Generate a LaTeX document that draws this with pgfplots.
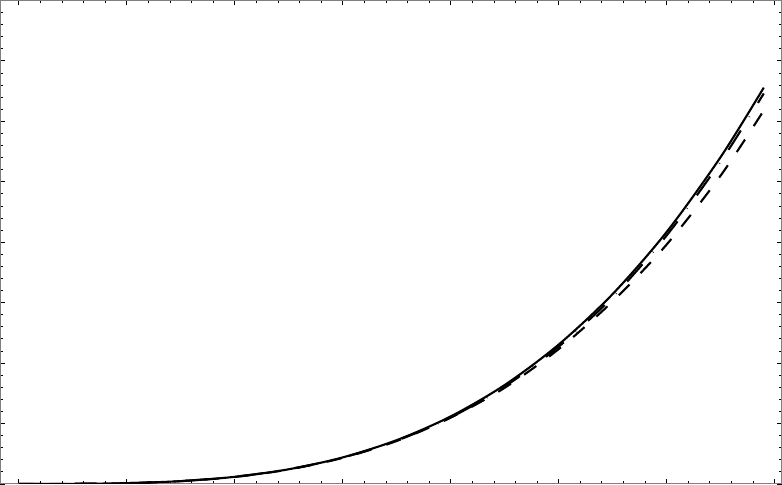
\documentclass[border=0pt]{standalone}
\usepackage{pgfplots}
\pgfplotsset{compat=1.18}

% three curves
\pgfplotstableread{
x    y
0.0  0.0
0.5  0.0013
1.0  0.0123
1.5  0.046
2.0  0.117
2.5  0.242
3.0  0.438
3.5  0.724
4.0  1.116
4.5  1.636
5.0  2.305
5.5  3.141
6.0  4.168
6.5  5.407
6.9  6.557
}\solid

\pgfplotstableread{
x    y
0.0  0.0
0.5  0.0013
1.0  0.012
1.5  0.045
2.0  0.115
2.5  0.238
3.0  0.430
3.5  0.710
4.0  1.095
4.5  1.590
5.0  2.230
5.5  3.020
6.0  3.960
6.5  5.100
6.9  6.180
}\dashed

\pgfplotstableread{
x    y
0.0  0.0
0.5  0.0013
1.0  0.0125
1.5  0.047
2.0  0.118
2.5  0.243
3.0  0.435
3.5  0.715
4.0  1.100
4.5  1.610
5.0  2.270
5.5  3.090
6.0  4.110
6.5  5.330
6.9  6.460
}\dashdot

\begin{document}
\begin{tikzpicture}
\begin{axis}[
    width=782bp, height=484bp, scale only axis,
    xmin=-0.17, xmax=7.065, ymin=0, ymax=8,
    xtick={0,...,7}, ytick={0,...,8},
    xticklabels={}, yticklabels={},
    ticklabel style={overlay},
    minor x tick num=4, minor y tick num=4,
    major tick length=5bp, minor tick length=3bp,
    tick align=inside,
    axis line style={gray, line width=0.8bp},
    tick style={black, line width=0.7bp},
]
\addplot[black, no markers, line width=2.1bp, smooth, solid] table[x=x, y=y] {\solid};
\addplot[black, no markers, line width=2.1bp, smooth, dash pattern=on 15bp off 16bp] table[x=x, y=y] {\dashed};
\addplot[black, no markers, line width=2.1bp, smooth, dash pattern=on 23bp off 16bp on 0.5bp off 16bp] table[x=x, y=y] {\dashdot};
\end{axis}
\end{tikzpicture}
\end{document}
